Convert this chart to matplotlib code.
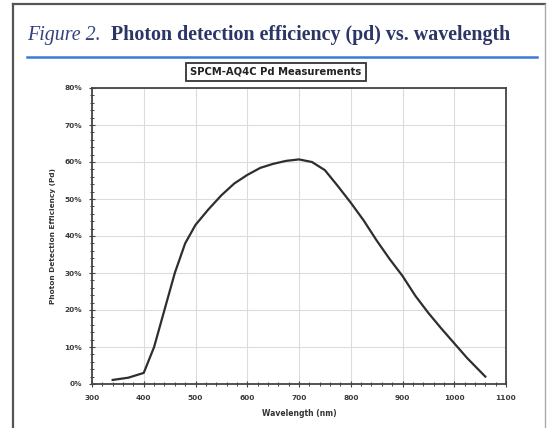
import matplotlib
matplotlib.use("Agg")
import matplotlib.pyplot as plt
from matplotlib.ticker import MultipleLocator, PercentFormatter
from matplotlib.lines import Line2D

wavelength_nm = [340, 370, 400, 420, 440, 460, 480, 500, 525, 550, 575, 600,
                 625, 650, 675, 700, 725, 750, 775, 800, 825, 850, 875, 900,
                 925, 950, 975, 1000, 1025, 1060]
pde_percent = [1.1, 1.7, 3.0, 10.0, 20.0, 30.0, 38.0, 43.0, 47.2, 51.0, 54.2, 56.5,
               58.4, 59.5, 60.3, 60.7, 60.0, 57.8, 53.5, 49.0, 44.2, 38.8, 33.8, 29.2,
               23.8, 19.2, 15.0, 11.0, 7.0, 2.0]

fig_title_prefix = "Figure 2."
fig_title_main = "Photon detection efficiency (pd) vs. wavelength"
chart_title = "SPCM-AQ4C Pd Measurements"
x_label = "Wavelength (nm)"
y_label = "Photon Detection Efficiency (Pd)"

W, H = 550, 428
fig = plt.figure(figsize=(W / 100, H / 100), dpi=100)
fig.patch.set_facecolor("white")

def fx(px):
    return px / W

def fy(py):
    return 1 - py / H

# outer document frame
frame_col = "#555555"
fig.add_artist(Line2D([fx(13), fx(13)], [fy(4), 0], color=frame_col, lw=1.6, transform=fig.transFigure))
fig.add_artist(Line2D([fx(13), fx(545)], [fy(4), fy(4)], color=frame_col, lw=1.6, transform=fig.transFigure))
fig.add_artist(Line2D([fx(545), fx(545)], [fy(4), 0], color="#aaaaaa", lw=1.0, transform=fig.transFigure))

# title
title_col = "#2b3566"
t1 = fig.text(fx(27), fy(40), fig_title_prefix, fontsize=14.4, family="Liberation Serif",
              style="italic", color="#34407a", va="baseline", ha="left")
fig.canvas.draw()
bb = t1.get_window_extent()
x_after = (bb.x1 + 10) / W
fig.text(x_after, fy(40), fig_title_main, fontsize=14.4, family="Liberation Serif",
         weight="bold", color=title_col, va="baseline", ha="left")
fig.add_artist(Line2D([fx(27), fx(537)], [fy(57), fy(57)], color="#3a7bd5", lw=1.8,
                      transform=fig.transFigure))

# axes
ax = fig.add_axes([fx(92), fy(384), (506 - 92) / W, (384 - 88) / H])
ax.plot(wavelength_nm, pde_percent, color="#2e2e2e", lw=1.6, solid_joinstyle="round")
ax.set_xlim(300, 1100)
ax.set_ylim(0, 80)
ax.xaxis.set_major_locator(MultipleLocator(100))
ax.xaxis.set_minor_locator(MultipleLocator(20))
ax.yaxis.set_major_locator(MultipleLocator(10))
ax.yaxis.set_minor_locator(MultipleLocator(2))
ax.yaxis.set_major_formatter(PercentFormatter(decimals=0))
ax.grid(True, which="major", color="#dcdcdc", lw=0.8)
ax.set_axisbelow(True)
for s in ax.spines.values():
    s.set_color("#444444")
    s.set_linewidth(1.3)
ax.tick_params(which="major", direction="inout", length=4, width=0.8, colors="#444444",
               labelsize=5.3, labelcolor="#3a3a3a")
ax.tick_params(axis="x", which="major", pad=6)
ax.tick_params(axis="y", which="major", pad=5)
ax.tick_params(which="minor", direction="inout", length=2.5, width=0.7, colors="#444444")
for lab in ax.get_xticklabels() + ax.get_yticklabels():
    lab.set_fontweight("bold")
    lab.set_family("DejaVu Sans")
ax.set_xlabel(x_label, fontsize=5.5, weight="bold", color="#333333", family="DejaVu Sans", labelpad=6)
ax.set_ylabel(y_label, fontsize=5.3, weight="bold", color="#333333", family="DejaVu Sans", labelpad=6)

# chart title box
fig.text(fx(276), fy(72), chart_title, fontsize=7.2, weight="bold", family="DejaVu Sans",
         color="#222222", ha="center", va="center",
         bbox=dict(boxstyle="square,pad=0.4", fc="white", ec="#333333", lw=1.3))

fig.savefig("out.png", dpi=100)
